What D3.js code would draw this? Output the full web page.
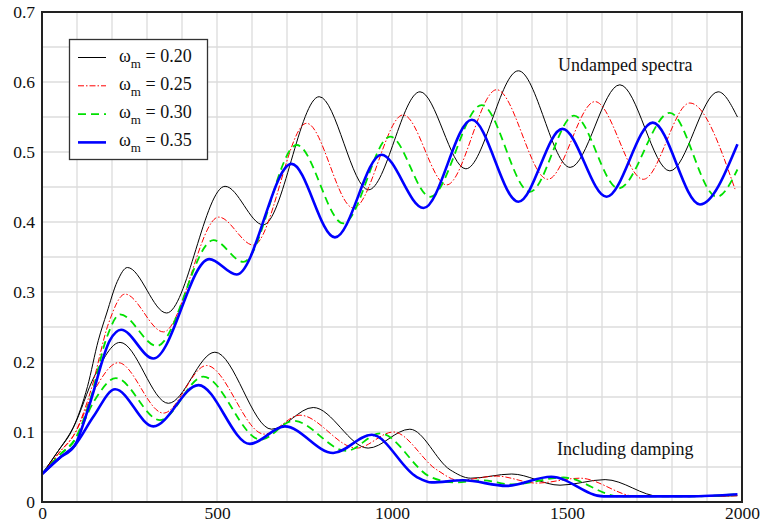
<!DOCTYPE html>
<html>
<head>
<meta charset="utf-8">
<script src="https://cdn.jsdelivr.net/npm/d3@7"></script>
<style>
  html, body { margin: 0; padding: 0; background: #fff; }
  svg { display: block; }
  svg text { font-family: "Liberation Serif", "DejaVu Serif", serif !important; fill: #111; }
</style>
</head>
<body>
<svg id="chart" width="765" height="524"></svg>
<script>
// ---- data (x, y) pairs ----
const xTicks = [0, 500, 1000, 1500, 2000];
const yTicks = [0, 0.1, 0.2, 0.3, 0.4, 0.5, 0.6, 0.7];
const legendLabels = ["0.20", "0.25", "0.30", "0.35"];

const undamped020 = [[0,0.04],[45,0.072],[90,0.107],[130,0.165],[161,0.231],[185,0.27],[215,0.315],[244,0.335],[356,0.270],[523,0.451],[632,0.396],[792,0.579],[933,0.446],[1080,0.586],[1211,0.476],[1361,0.616],[1509,0.478],[1651,0.596],[1794,0.473],[1932,0.586],[1987,0.550]];
const undamped025 = [[0,0.04],[50,0.071],[95,0.099],[140,0.16],[190,0.255],[237,0.297],[347,0.243],[505,0.407],[604,0.367],[756,0.541],[890,0.420],[1032,0.553],[1156,0.453],[1299,0.589],[1445,0.461],[1580,0.572],[1718,0.461],[1851,0.570],[1980,0.447]];
const undamped030 = [[0,0.04],[50,0.067],[95,0.09],[140,0.15],[185,0.235],[223,0.268],[328,0.223],[490,0.374],[575,0.343],[728,0.510],[861,0.398],[995,0.522],[1109,0.436],[1256,0.567],[1394,0.443],[1520,0.552],[1647,0.448],[1794,0.556],[1928,0.436],[1987,0.475]];
const undamped035 = [[0,0.04],[50,0.063],[94,0.081],[137,0.141],[194,0.231],[226,0.246],[318,0.205],[478,0.347],[556,0.325],[713,0.483],[837,0.378],[970,0.496],[1090,0.420],[1228,0.546],[1361,0.429],[1487,0.533],[1613,0.436],[1745,0.542],[1880,0.425],[1987,0.511]];

const damped020 = [[0,0.04],[45,0.072],[90,0.107],[150,0.18],[223,0.228],[361,0.141],[494,0.214],[656,0.104],[775,0.135],[932,0.077],[1051,0.104],[1166,0.046],[1225,0.034],[1342,0.040],[1480,0.024],[1609,0.032],[1766,0.008],[1900,0.008],[1987,0.009]];
const damped025 = [[0,0.04],[50,0.071],[95,0.099],[150,0.16],[218,0.199],[347,0.127],[470,0.195],[635,0.097],[737,0.124],[899,0.077],[1004,0.100],[1128,0.046],[1190,0.031],[1299,0.037],[1413,0.027],[1537,0.034],[1699,0.008],[1900,0.008],[1987,0.009]];
const damped030 = [[0,0.04],[50,0.067],[95,0.09],[150,0.145],[211,0.177],[337,0.117],[461,0.179],[625,0.089],[718,0.116],[870,0.073],[966,0.098],[1109,0.036],[1180,0.028],[1260,0.031],[1340,0.025],[1490,0.035],[1651,0.008],[1850,0.008],[1987,0.011]];
const damped035 = [[0,0.04],[50,0.063],[94,0.081],[147,0.122],[209,0.161],[318,0.108],[447,0.167],[594,0.083],[694,0.108],[832,0.070],[942,0.096],[1070,0.036],[1113,0.028],[1204,0.031],[1328,0.023],[1455,0.036],[1604,0.008],[1850,0.008],[1987,0.011]];

const series = [
  { label: legendLabels[0], color: "#000000", width: 1.0, dash: null,        data: [undamped020, damped020] },
  { label: legendLabels[1], color: "#ff0000", width: 1.0, dash: "6,2,1.5,2", data: [undamped025, damped025] },
  { label: legendLabels[2], color: "#00e000", width: 1.8, dash: "8,5",       data: [undamped030, damped030] },
  { label: legendLabels[3], color: "#0000ff", width: 2.6, dash: null,        data: [undamped035, damped035] }
];

// ---- layout ----
const svg = d3.select("#chart");
const FONT = "'Liberation Serif', 'DejaVu Serif', serif";
const L = 42, R = 742, T = 12, B = 502;
const x = d3.scaleLinear().domain([0, 2000]).range([L, R]);
const y = d3.scaleLinear().domain([0, 0.7]).range([B, T]);

// grid
const g = svg.append("g");
g.selectAll("line.vg").data(d3.range(100, 2000, 100)).enter().append("line")
  .attr("x1", d => x(d)).attr("x2", d => x(d)).attr("y1", T).attr("y2", B)
  .attr("stroke", "#dcdcdc").attr("stroke-width", 1.3);
g.selectAll("line.hg").data(d3.range(1, 14).map(i => i * 0.05)).enter().append("line")
  .attr("y1", d => y(d)).attr("y2", d => y(d)).attr("x1", L).attr("x2", R)
  .attr("stroke", "#dcdcdc").attr("stroke-width", 1.3);

// axes (labels only)
const xAxis = d3.axisBottom(x).tickValues(xTicks).tickSize(0).tickPadding(5).tickFormat(d3.format("d"));
const yAxis = d3.axisLeft(y).tickValues(yTicks).tickSize(0).tickPadding(7).tickFormat(d => d === 0 ? "0" : d3.format(".1f")(d));
const gx = svg.append("g").attr("transform", `translate(0,${B})`).call(xAxis);
const gy = svg.append("g").attr("transform", `translate(${L},0)`).call(yAxis);
[gx, gy].forEach(a => {
  a.attr("font-family", FONT);
  a.select(".domain").remove();
  a.selectAll("text").style("font-family", FONT).attr("font-size", 17.5).attr("fill", "#111");
});

// curves
const line = d3.line().x(d => x(d[0])).y(d => y(d[1])).curve(d3.curveMonotoneX);
series.forEach(s => {
  s.data.forEach(arr => {
    svg.append("path").datum(arr).attr("d", line)
      .attr("fill", "none").attr("stroke", s.color).attr("stroke-width", s.width)
      .attr("stroke-dasharray", s.dash);
  });
});

// frame
svg.append("rect").attr("x", L).attr("y", T).attr("width", R - L).attr("height", B - T)
  .attr("fill", "none").attr("stroke", "#222").attr("stroke-width", 2);

// legend
const lg = svg.append("g");
lg.append("rect").attr("x", 69.5).attr("y", 39.5).attr("width", 138).attr("height", 120)
  .attr("fill", "#fff").attr("stroke", "#333").attr("stroke-width", 1.3);
series.forEach((s, i) => {
  const yy = 57.5 + i * 28.3;
  lg.append("line").attr("x1", 78).attr("x2", 106).attr("y1", yy).attr("y2", yy)
    .attr("stroke", s.color).attr("stroke-width", s.width).attr("stroke-dasharray", s.dash);
  const t = lg.append("text").attr("x", 119).attr("y", yy + 4).attr("font-size", 18).style("font-family", FONT);
  t.append("tspan").text("ω");
  t.append("tspan").attr("font-size", 13).attr("dy", 6).text("m");
  t.append("tspan").attr("dy", -6).text(" = " + s.label);
});

// annotations
svg.append("text").attr("x", 558).attr("y", 71).attr("font-size", 18).style("font-family", FONT).text("Undamped spectra");
svg.append("text").attr("x", 557).attr("y", 455).attr("font-size", 18).style("font-family", FONT).text("Including damping");
</script>
</body>
</html>
